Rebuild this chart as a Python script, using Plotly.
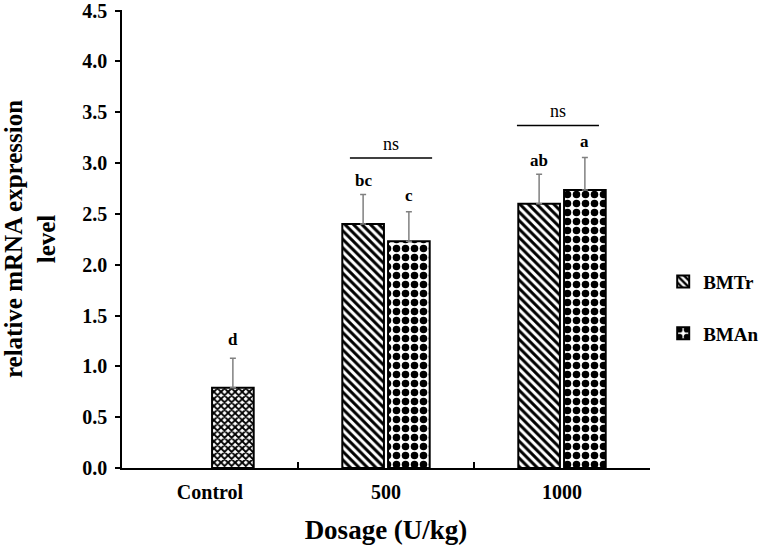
import plotly.graph_objects as go

categories = ["Control", "500", "1000"]
dose_groups = ["500", "1000"]
bmtr_values = [2.40, 2.60]
bmtr_errors = [0.29, 0.29]
bman_values = [2.23, 2.735]
bman_errors = [0.29, 0.32]
control_values = [0.79]
control_errors = [0.29]
bmtr_letters = ["bc", "ab"]
bman_letters = ["c", "a"]
control_letters = ["d"]
ns_labels = ["ns", "ns"]
ns_levels = [3.05, 3.37]
ns_left = [-0.205, -0.256]
ns_right = [0.262, 0.21]

SERIF = "Liberation Serif, Times New Roman, serif"
BARGAP = 0.48
BARGROUPGAP = 0.09
slot = (1 - BARGAP) / 2  # width of one bar slot in category units

fig = go.Figure()

err_style = dict(type="data", symmetric=False, color="#808080", thickness=1.5, width=3)

fig.add_trace(go.Bar(
    name="BMTr", x=dose_groups, y=bmtr_values, offsetgroup="a", legendgroup="g1",
    marker=dict(color="white", line=dict(color="black", width=2),
                pattern=dict(shape="\\", fgcolor="black", bgcolor="white", size=6,
                             solidity=0.5, fgopacity=1)),
    error_y=dict(array=bmtr_errors, arrayminus=[0, 0], **err_style),
))
fig.add_trace(go.Bar(
    name="BMAn", x=dose_groups, y=bman_values, offsetgroup="b", legendgroup="g2",
    marker=dict(color="white", line=dict(color="black", width=2),
                pattern=dict(shape=".", fgcolor="black", bgcolor="white", size=9,
                             solidity=0.55, fgopacity=1)),
    error_y=dict(array=bman_errors, arrayminus=[0, 0], **err_style),
))
fig.add_trace(go.Bar(
    name="Control", x=["Control"], y=control_values, offsetgroup="b", showlegend=False,
    marker=dict(color="white", line=dict(color="black", width=2),
                pattern=dict(shape="x", fgcolor="black", bgcolor="white", size=5,
                             solidity=0.6, fgopacity=1)),
    error_y=dict(array=control_errors, arrayminus=[0], **err_style),
))

letter_font = dict(family=SERIF, size=17, color="black", weight="bold")
for cat, v, e, t in zip(dose_groups, bmtr_values, bmtr_errors, bmtr_letters):
    ci = categories.index(cat)
    fig.add_annotation(x=ci - slot / 2, y=v + e, text=t, xref="x", yref="y",
                       showarrow=False, yshift=14, font=letter_font)
for cat, v, e, t in zip(dose_groups, bman_values, bman_errors, bman_letters):
    ci = categories.index(cat)
    fig.add_annotation(x=ci + slot / 2, y=v + e, text=t, xref="x", yref="y",
                       showarrow=False, yshift=16, font=letter_font)
for v, e, t in zip(control_values, control_errors, control_letters):
    ci = categories.index("Control")
    fig.add_annotation(x=ci + slot / 2, y=v + e, text=t, xref="x", yref="y",
                       showarrow=False, yshift=19, font=letter_font)

# ns brackets
for i, (cat, lvl, lab) in enumerate(zip(dose_groups, ns_levels, ns_labels)):
    ci = categories.index(cat)
    fig.add_shape(type="line", xref="x", yref="y",
                  x0=ci + ns_left[i], x1=ci + ns_right[i], y0=lvl, y1=lvl,
                  line=dict(color="black", width=1.5))
    fig.add_annotation(x=ci + (ns_left[i] + ns_right[i]) / 2, y=lvl, text=lab,
                       xref="x", yref="y", showarrow=False, yshift=14,
                       font=dict(family=SERIF, size=18, color="black"))

fig.update_layout(
    width=765, height=548,
    margin=dict(l=122, r=115, t=10, b=80, autoexpand=False),
    plot_bgcolor="white", paper_bgcolor="white",
    barmode="group", bargap=BARGAP, bargroupgap=BARGROUPGAP,
    font=dict(family=SERIF, color="black"),
    legend=dict(x=1.025, y=0.35, xanchor="left", yanchor="middle",
                font=dict(family=SERIF, size=19, color="black", weight="bold"),
                tracegroupgap=24, itemwidth=30, traceorder="grouped",
                bgcolor="rgba(0,0,0,0)"),
    xaxis=dict(
        type="category", categoryorder="array", categoryarray=categories,
        range=[-0.5, 2.5],
        showline=True, linecolor="black", linewidth=1.5,
        ticks="inside", ticklen=6, tickcolor="black", tickwidth=1.5,
        tickson="boundaries", ticklabelstandoff=5,
        tickfont=dict(family=SERIF, size=20, color="black", weight="bold"),
        title=dict(text="Dosage (U/kg)", standoff=18,
                   font=dict(family=SERIF, size=27, color="black", weight="bold")),
        showgrid=False, zeroline=False,
    ),
    yaxis=dict(
        range=[0, 4.505], dtick=0.5, tickformat=".1f",
        showline=True, linecolor="black", linewidth=1.5,
        ticks="outside", ticklen=5, tickcolor="black", tickwidth=1.5,
        ticklabelstandoff=4, ticklabeloverflow="allow",
        tickfont=dict(family=SERIF, size=20, color="black", weight="bold"),
        title=dict(text="relative mRNA expression<br>level", standoff=31,
                   font=dict(family=SERIF, size=25, color="black", weight="bold")),
        showgrid=False, zeroline=False,
    ),
)

fig.write_html("out.html", config={"displayModeBar": False},
               post_script="document.body.style.margin='0';")
